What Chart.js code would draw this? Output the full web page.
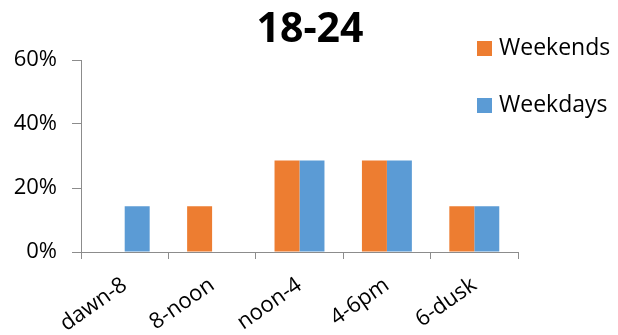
<!DOCTYPE html>
<html>
<head>
<meta charset="utf-8">
<script src="https://cdn.jsdelivr.net/npm/chart.js@4"></script>
<style>
  html, body { margin: 0; padding: 0; background: #fff; }
  #wrap { width: 618px; height: 335px; }
</style>
</head>
<body>
<div id="wrap"><canvas id="chart" width="618" height="335"></canvas></div>
<script>
  // Data
  const categories = ['dawn-8', '8-noon', 'noon-4', '4-6pm', '6-dusk'];
  const weekends = [0, 0.143, 0.286, 0.286, 0.143];
  const weekdays = [0.143, 0, 0.286, 0.286, 0.143];
  const yTicks = [0, 0.2, 0.4, 0.6];
  const titleText = '18-24';

  const FONT = "'Open Sans', sans-serif";
  const AXIS_GREY = '#8c8c8c';

  // Title centred on the whole canvas and legend floating top right, like the original
  const overlay = {
    id: 'overlay',
    afterDraw: function(chart) {
      const ctx = chart.ctx;
      ctx.save();
      ctx.fillStyle = '#000';
      ctx.font = 'bold 41px ' + FONT;
      ctx.textAlign = 'center';
      ctx.textBaseline = 'alphabetic';
      ctx.fillText(titleText, chart.width / 2 + 1, 42);

      const items = [
        { x: 477, y: 41 },
        { x: 477, y: 98 }
      ];
      ctx.font = '23px ' + FONT;
      ctx.textAlign = 'left';
      ctx.textBaseline = 'middle';
      chart.data.datasets.forEach(function(ds, i) {
        const p = items[i];
        ctx.fillStyle = ds.backgroundColor;
        ctx.fillRect(p.x, p.y, 15, 15);
        ctx.fillStyle = '#000';
        ctx.fillText(ds.label, p.x + 22, p.y + 7);
      });
      ctx.restore();
    }
  };

  new Chart(document.getElementById('chart'), {
    type: 'bar',
    data: {
      labels: categories,
      datasets: [
        { label: 'Weekends', data: weekends, backgroundColor: '#ED7D31' },
        { label: 'Weekdays', data: weekdays, backgroundColor: '#5B9BD5' }
      ]
    },
    options: {
      responsive: false,
      animation: false,
      devicePixelRatio: 1,
      layout: { padding: { left: 0, right: 100, top: 60, bottom: 0 } },
      datasets: {
        bar: { barPercentage: 1, categoryPercentage: 0.5714 }
      },
      plugins: {
        legend: { display: false },
        tooltip: { enabled: false },
        title: { display: false }
      },
      scales: {
        x: {
          grid: {
            display: true,
            drawOnChartArea: false,
            offset: true,
            color: AXIS_GREY,
            tickLength: 7
          },
          border: { color: AXIS_GREY },
          ticks: {
            color: '#000',
            font: { family: FONT, size: 22 },
            minRotation: 35,
            maxRotation: 35,
            padding: 13
          },
          afterFit: function(scale) { scale.height = 83; }
        },
        y: {
          min: 0,
          max: 0.6,
          afterBuildTicks: function(scale) {
            scale.ticks = yTicks.map(v => ({ value: v }));
          },
          grid: {
            display: true,
            drawOnChartArea: false,
            color: AXIS_GREY,
            tickLength: 9
          },
          border: { color: AXIS_GREY },
          ticks: {
            color: '#000',
            font: { family: FONT, size: 22 },
            padding: 15,
            callback: function(v) { return Math.round(v * 100) + '%'; }
          },
          afterFit: function(scale) { scale.width = 81; }
        }
      }
    },
    plugins: [overlay]
  });
</script>
</body>
</html>
